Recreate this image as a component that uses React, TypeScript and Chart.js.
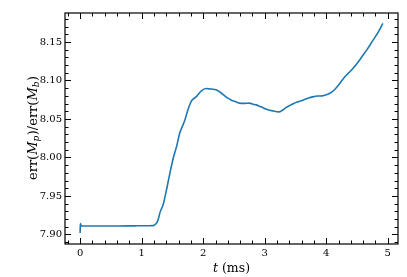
import React, { useEffect, useRef } from "react";
import { Chart, registerables } from "chart.js";

Chart.register(...registerables);

const tValues = [
  0, 0.003, 0.02, 0.3, 0.6, 0.9, 1.1, 1.19, 1.22, 1.25,
  1.27, 1.3, 1.35, 1.4, 1.46, 1.51, 1.57, 1.62, 1.66, 1.7,
  1.755, 1.81, 1.89, 1.97, 2.05, 2.13, 2.21, 2.27, 2.32, 2.38,
  2.43, 2.48, 2.54, 2.59, 2.67, 2.755, 2.81, 2.86, 2.94, 3.03,
  3.13, 3.24, 3.3, 3.35, 3.42, 3.48, 3.55, 3.62, 3.7, 3.78,
  3.86, 3.94, 4.0, 4.05, 4.13, 4.21, 4.27, 4.34, 4.4, 4.5,
  4.59, 4.67, 4.75, 4.84, 4.92,
];
const ratioValues = [
  7.902, 7.914, 7.911, 7.911, 7.911, 7.9112, 7.9113, 7.9115, 7.913, 7.9156,
  7.92, 7.929, 7.939, 7.9566, 7.98, 7.998, 8.015, 8.032, 8.04, 8.048,
  8.0627, 8.0735, 8.079, 8.0865, 8.0896, 8.0888, 8.0878, 8.085, 8.082, 8.078,
  8.0757, 8.0735, 8.072, 8.0705, 8.0702, 8.0705, 8.069, 8.0683, 8.0657, 8.0627,
  8.0605, 8.0592, 8.062, 8.065, 8.068, 8.0705, 8.0725, 8.0744, 8.0768, 8.0787,
  8.0798, 8.08, 8.0815, 8.083, 8.0876, 8.095, 8.1017, 8.108, 8.1125, 8.122,
  8.132, 8.141, 8.151, 8.162, 8.174,
];
const xTicks = [0, 1, 2, 3, 4, 5];
const yTicks = [7.9, 7.95, 8.0, 8.05, 8.1, 8.15];
const xMinorStep = 0.2;
const yMinorStep = 0.01;

const X_MIN = -0.246;
const X_MAX = 5.166;
const Y_MIN = 7.8876;
const Y_MAX = 8.1876;

const SERIF = "'DejaVu Serif', serif";

const framePlugin = {
  id: "framePlugin",
  afterDraw(chart: any) {
    const ctx = chart.ctx as CanvasRenderingContext2D;
    const { left, right, top, bottom } = chart.chartArea;
    const xs = chart.scales.x;
    const ys = chart.scales.y;
    ctx.save();
    ctx.strokeStyle = "#000";
    const major = 6;
    const minor = 3.5;
    ctx.lineWidth = 1;
    const drawX = (v: number, len: number) => {
      const px = Math.round(xs.getPixelForValue(v)) + 0.5;
      if (px < left || px > right) return;
      ctx.beginPath();
      ctx.moveTo(px, bottom);
      ctx.lineTo(px, bottom - len);
      ctx.moveTo(px, top);
      ctx.lineTo(px, top + len);
      ctx.stroke();
    };
    const drawY = (v: number, len: number) => {
      const py = Math.round(ys.getPixelForValue(v)) + 0.5;
      if (py < top || py > bottom) return;
      ctx.beginPath();
      ctx.moveTo(left, py);
      ctx.lineTo(left + len, py);
      ctx.moveTo(right, py);
      ctx.lineTo(right - len, py);
      ctx.stroke();
    };
    for (let i = -2; i <= 30; i++) {
      const v = +(i * xMinorStep).toFixed(6);
      if (v < X_MIN || v > X_MAX) continue;
      if (xTicks.some((t) => Math.abs(t - v) < 1e-6)) continue;
      drawX(v, minor);
    }
    for (let i = 788; i <= 819; i++) {
      const v = +(i * yMinorStep).toFixed(6);
      if (v < Y_MIN || v > Y_MAX) continue;
      if (yTicks.some((t) => Math.abs(t - v) < 1e-6)) continue;
      drawY(v, minor);
    }
    xTicks.forEach((v) => drawX(v, major));
    yTicks.forEach((v) => drawY(v, major));
    ctx.lineWidth = 1.2;
    ctx.strokeRect(left, top, right - left, bottom - top);

    // x label
    ctx.fillStyle = "#000";
    ctx.textBaseline = "alphabetic";
    const xf = 12.5;
    const xParts: [string, string][] = [
      ["t", `italic ${xf}px ${SERIF}`],
      [" (ms)", `${xf}px ${SERIF}`],
    ];
    let tw = 0;
    xParts.forEach(([s, f]) => {
      ctx.font = f;
      tw += ctx.measureText(s).width;
    });
    let cx = (left + right) / 2 - tw / 2;
    xParts.forEach(([s, f]) => {
      ctx.font = f;
      ctx.fillText(s, cx, 272);
      cx += ctx.measureText(s).width;
    });

    // y label
    const yf = 13;
    const roman = `${yf}px ${SERIF}`;
    const ital = `italic ${yf}px ${SERIF}`;
    const sub = `italic 9px ${SERIF}`;
    const yParts: [string, string, number][] = [
      ["err(", roman, 0],
      ["M", ital, 0],
      ["p", sub, 2.5],
      [")/err(", roman, 0],
      ["M", ital, 0],
      ["b", sub, 2.5],
      [")", roman, 0],
    ];
    let yw = 0;
    yParts.forEach(([s, f]) => {
      ctx.font = f;
      yw += ctx.measureText(s).width;
    });
    ctx.translate(36.5, (top + bottom) / 2);
    ctx.rotate(-Math.PI / 2);
    let lx = -yw / 2;
    yParts.forEach(([s, f, dy]) => {
      ctx.font = f;
      ctx.fillText(s, lx, dy);
      lx += ctx.measureText(s).width + (f === sub ? 0.5 : 0);
    });
    ctx.restore();
  },
};

export default function App() {
  const ref = useRef<HTMLCanvasElement | null>(null);
  useEffect(() => {
    document.body.style.margin = "0";
    if (!ref.current) return;
    const data = tValues.map((t, i) => ({ x: t, y: ratioValues[i] }));
    const chart = new Chart(ref.current, {
      type: "line",
      data: {
        datasets: [
          {
            data,
            borderColor: "#1f77b4",
            borderWidth: 1.6,
            pointRadius: 0,
            cubicInterpolationMode: "monotone",
            fill: false,
          },
        ],
      },
      options: {
        animation: false,
        responsive: false,
        layout: { padding: { top: 13, right: 9, left: 0, bottom: 0 } },
        plugins: {
          legend: { display: false },
          tooltip: { enabled: false },
        },
        scales: {
          x: {
            type: "linear",
            min: X_MIN,
            max: X_MAX,
            grid: { display: false, drawTicks: false },
            border: { display: false },
            afterFit: (s: any) => {
              s.height = 33;
            },
            afterBuildTicks: (s: any) => {
              s.ticks = xTicks.map((v) => ({ value: v }));
            },
            ticks: {
              padding: 3,
              color: "#000",
              font: { family: SERIF, size: 10 },
              maxRotation: 0,
              callback: (v: any) => String(v),
            },
          },
          y: {
            type: "linear",
            min: Y_MIN,
            max: Y_MAX,
            grid: { display: false, drawTicks: false },
            border: { display: false },
            afterFit: (s: any) => {
              s.width = 65;
            },
            afterBuildTicks: (s: any) => {
              s.ticks = yTicks.map((v) => ({ value: v }));
            },
            ticks: {
              padding: 3,
              color: "#000",
              font: { family: SERIF, size: 10 },
              callback: (v: any) => Number(v).toFixed(2),
            },
          },
        },
      },
      plugins: [framePlugin],
    });
    return () => chart.destroy();
  }, []);
  return <canvas ref={ref} width={407} height={277} style={{ display: "block" }} />;
}
